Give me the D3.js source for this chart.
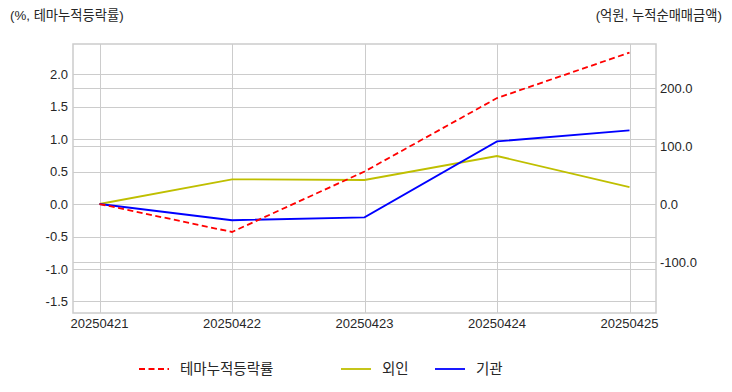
<!DOCTYPE html>
<html><head><meta charset="utf-8">
<script src="https://cdn.jsdelivr.net/npm/d3@7/dist/d3.min.js"></script>
<style>
body{margin:0;background:#fff;}
text{font-family:"Liberation Sans","Noto Sans CJK KR",Arial,sans-serif;fill:#262626;}
</style></head><body>
<svg id="c" width="732" height="392"></svg>
<script>
const dates = ["20250421","20250422","20250423","20250424","20250425"];
const themeRate = [0.0, -0.43, 0.50, 1.63, 2.33];
const foreign = [0.0, 42.6, 41.4, 82.8, 29.3];
const institution = [0.0, -28.0, -23.0, 108.0, 127.0];
const leftTicks = [-1.5, -1.0, -0.5, 0.0, 0.5, 1.0, 1.5, 2.0];
const rightTicks = [-100, 0, 100, 200];
const seriesNames = ["테마누적등락률", "외인", "기관"];

const svg = d3.select("#c");
const L = 73, R = 656, T = 44, B = 313;
const x = d3.scaleLinear().domain([-0.2, 4.2]).range([L, R]);
const yL = d3.scaleLinear().domain([-1.677, 2.462]).range([B, T]);
const yR = d3.scaleLinear().domain([-188, 276]).range([B, T]);

const g = svg.append("g");
g.selectAll(".gl").data(leftTicks).enter().append("line")
  .attr("x1", L).attr("x2", R).attr("y1", d => Math.round(yL(d)) + 0.5).attr("y2", d => Math.round(yL(d)) + 0.5)
  .attr("stroke", "#cccccc").attr("stroke-width", 1);
g.selectAll(".gr").data(rightTicks).enter().append("line")
  .attr("x1", L).attr("x2", R).attr("y1", d => Math.round(yR(d)) + 0.5).attr("y2", d => Math.round(yR(d)) + 0.5)
  .attr("stroke", "#cccccc").attr("stroke-width", 1);
g.selectAll(".gx").data(dates).enter().append("line")
  .attr("x1", (d, i) => Math.round(x(i)) + 0.5).attr("x2", (d, i) => Math.round(x(i)) + 0.5)
  .attr("y1", T).attr("y2", B).attr("stroke", "#cccccc").attr("stroke-width", 1);

svg.append("rect").attr("x", L).attr("y", T).attr("width", R - L).attr("height", B - T)
  .attr("fill", "none").attr("stroke", "#cccccc").attr("stroke-width", 1.5);

svg.selectAll(".lt").data(leftTicks).enter().append("text")
  .attr("x", 68).attr("y", d => yL(d)).attr("dy", "0.35em").attr("text-anchor", "end")
  .style("font-size", "13px").text(d => d.toFixed(1));
svg.selectAll(".rt").data(rightTicks).enter().append("text")
  .attr("x", 660).attr("y", d => yR(d)).attr("dy", "0.35em").attr("text-anchor", "start")
  .style("font-size", "13px").text(d => d.toFixed(1));
svg.selectAll(".xt").data(dates).enter().append("text")
  .attr("x", (d, i) => x(i)).attr("y", 328).attr("text-anchor", "middle")
  .style("font-size", "13px").text(d => d);

svg.append("text").attr("x", 10).attr("y", 20).style("font-size", "13.3px").text("(%, 테마누적등락률)");
svg.append("text").attr("x", 722).attr("y", 20).attr("text-anchor", "end").style("font-size", "13.3px").text("(억원, 누적순매매금액)");

const lineL = d3.line().x((d, i) => x(i)).y(d => yL(d));
const lineR = d3.line().x((d, i) => x(i)).y(d => yR(d));
svg.append("path").attr("d", lineR(foreign)).attr("fill", "none").attr("stroke", "#bfbf00").attr("stroke-width", 1.8);
svg.append("path").attr("d", lineR(institution)).attr("fill", "none").attr("stroke", "#0000ff").attr("stroke-width", 1.8);
svg.append("path").attr("d", lineL(themeRate)).attr("fill", "none").attr("stroke", "#ff0000").attr("stroke-width", 1.8).attr("stroke-dasharray", "6,3.5");

const leg = [
  {name: seriesNames[0], color: "#ff0000", dash: "6,3.5", x0: 139},
  {name: seriesNames[1], color: "#bfbf00", dash: null, x0: 341},
  {name: seriesNames[2], color: "#0000ff", dash: null, x0: 435}
];
const lg = svg.selectAll(".leg").data(leg).enter().append("g");
lg.append("line").attr("x1", d => d.x0).attr("x2", d => d.x0 + 30).attr("y1", 369).attr("y2", 369)
  .attr("stroke", d => d.color).attr("stroke-width", 1.8).attr("stroke-dasharray", d => d.dash);
lg.append("text").attr("x", d => d.x0 + 41).attr("y", 369).attr("dy", "0.35em")
  .style("font-size", "14.5px").text(d => d.name);
</script></body></html>
